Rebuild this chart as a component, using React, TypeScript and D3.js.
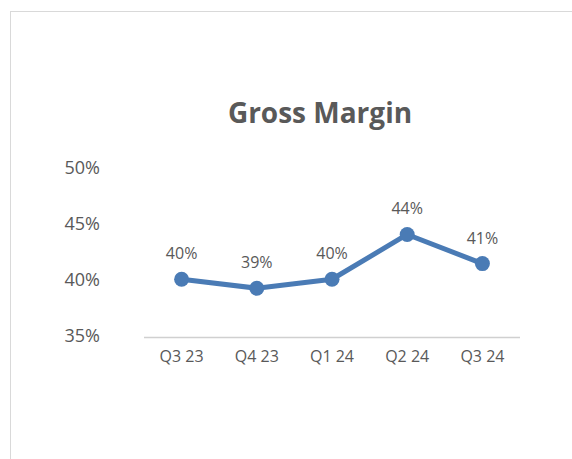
import React from "react";
import * as d3 from "d3";

const categories = ["Q3 23", "Q4 23", "Q1 24", "Q2 24", "Q3 24"];
const grossMargin = [40.2, 39.4, 40.2, 44.2, 41.6];
const dataLabels = ["40%", "39%", "40%", "44%", "41%"];
const yTicks = [35, 40, 45, 50];

const W = 572;
const H = 459;
const FONT = "'Open Sans', 'Noto Sans', sans-serif";
const GREY = "#595959";
const BLUE = "#4a7bb5";

export default function App() {
  const x = d3.scaleBand<string>().domain(categories).range([144, 520]);
  const y = d3.scaleLinear().domain([35, 50]).range([337.5, 169.5]);
  const line = d3
    .line<number>()
    .x((_, i) => (x(categories[i]) as number) + x.bandwidth() / 2)
    .y((d) => y(d));

  return (
    <div style={{ position: "absolute", left: 0, top: 0 }}>
      <svg width={W} height={H} style={{ display: "block" }}>
        <rect x={0} y={0} width={W} height={H} fill="#fff" />
        <rect x={10.5} y={11.5} width={W + 20} height={H + 20} fill="#fff" stroke="#d9d9d9" strokeWidth={1} />
        <text x={320} y={123} textAnchor="middle" fontFamily={FONT} fontWeight={700} fontSize={28} fill={GREY}>
          Gross Margin
        </text>
        {yTicks.map((t) => (
          <text key={t} x={100} y={y(t) + 4} textAnchor="end" fontFamily={FONT} fontSize={18} fill={GREY}>
            {t}%
          </text>
        ))}
        <line x1={144} x2={520} y1={y(35)} y2={y(35)} stroke="#d0d0d0" strokeWidth={1.5} />
        {categories.map((c) => (
          <text
            key={c}
            x={(x(c) as number) + x.bandwidth() / 2}
            y={362}
            textAnchor="middle"
            fontFamily={FONT}
            fontSize={16}
            fill={GREY}
          >
            {c}
          </text>
        ))}
        <path d={line(grossMargin) || ""} fill="none" stroke={BLUE} strokeWidth={5} strokeLinejoin="round" />
        {grossMargin.map((v, i) => {
          const cx = (x(categories[i]) as number) + x.bandwidth() / 2;
          return (
            <g key={i}>
              <circle cx={cx} cy={y(v)} r={7.5} fill={BLUE} />
              <text x={cx} y={y(v) - 20} textAnchor="middle" fontFamily={FONT} fontSize={16} fill={GREY}>
                {dataLabels[i]}
              </text>
            </g>
          );
        })}
      </svg>
    </div>
  );
}
